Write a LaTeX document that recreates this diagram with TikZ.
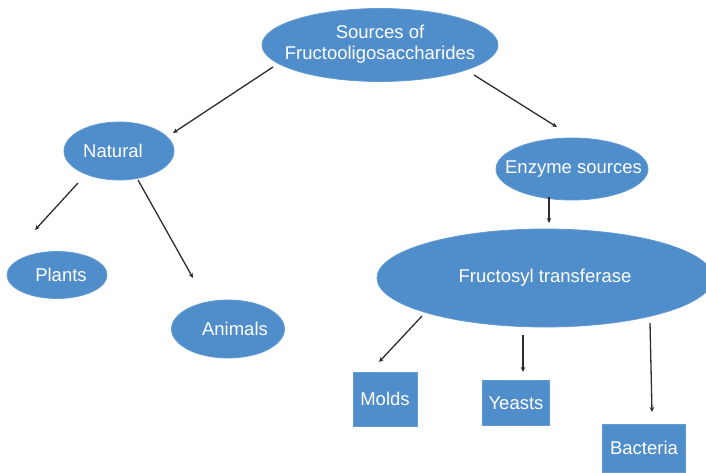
\documentclass[tikz,border=0pt]{standalone}
\usepackage{fontspec}
\setmainfont{Liberation Sans}
\usetikzlibrary{shapes.geometric,arrows.meta}
\definecolor{nodeblue}{RGB}{80,141,203}
\definecolor{nodeedge}{RGB}{98,155,212}
\definecolor{arrowgray}{RGB}{45,45,45}
\newcommand{\zw}[1]{\makebox[0pt]{#1}}
\tikzset{
  x=1pt, y=-1pt,
  blob/.style={ellipse, fill=nodeblue, draw=nodeedge, line width=0.8pt, inner sep=0pt, text=white,
    font=\fontsize{18.5}{22}\selectfont},
  boxnode/.style={rectangle, fill=nodeblue, draw=nodeedge, line width=0.8pt, inner sep=0pt, text=white,
    font=\fontsize{18.5}{22}\selectfont},
  arr/.style={draw=arrowgray, line width=1.3pt, -{Stealth[length=5pt,width=4.5pt]}}
}
\begin{document}
\begin{tikzpicture}
\useasboundingbox (0,0) rectangle (706,472);
\node[blob, minimum width=236pt, minimum height=73pt] (top) at (380,45)
  {\zw{\begin{tabular}{@{}c@{}}Sources of\\[-1pt]Fructooligosaccharides\end{tabular}}};
\node[blob, minimum width=110pt, minimum height=58pt] (nat) at (119,151) {\zw{Natural\kern12pt}};
\node[blob, minimum width=152pt, minimum height=62pt] (enz) at (572,169) {\zw{\kern3pt Enzyme sources}};
\node[blob, minimum width=100pt, minimum height=47pt] (pla) at (57,275) {\zw{\kern8pt Plants}};
\node[blob, minimum width=113pt, minimum height=58pt] (ani) at (228,329) {\zw{\kern14pt Animals}};
\node[blob, minimum width=336pt, minimum height=98pt] (fru) at (545,278) {\zw{Fructosyl transferase}};
\node[boxnode, minimum width=64pt, minimum height=54pt] (mol) at (385,399) {Molds};
\node[boxnode, minimum width=67pt, minimum height=45pt] (yea) at (516,403) {Yeasts};
\node[boxnode, minimum width=83pt, minimum height=48pt] (bac) at (644,448) {Bacteria};
\draw[arr] ([shift={(-107,22)}]top.center) -- ([shift={(54,-18)}]nat.center);
\draw[arr] ([shift={(94,30)}]top.center) -- ([shift={(-15,-42)}]enz.center);
\draw[arr] ([shift={(-23,28)}]enz.center) -- ([shift={(4,-55)}]fru.center);
\draw[arr] ([shift={(-41,32)}]nat.center) -- ([shift={(-22,-45)}]pla.center);
\draw[arr] ([shift={(19,29)}]nat.center) -- ([shift={(-35,-51)}]ani.center);
\draw[arr] ([shift={(-123,38)}]fru.center) -- ([shift={(-6,-37)}]mol.center);
\draw[arr] ([shift={(-22,57)}]fru.center) -- ([shift={(7,-31)}]yea.center);
\draw[arr] ([shift={(105,45)}]fru.center) -- ([shift={(8,-36)}]bac.center);
\end{tikzpicture}
\end{document}
